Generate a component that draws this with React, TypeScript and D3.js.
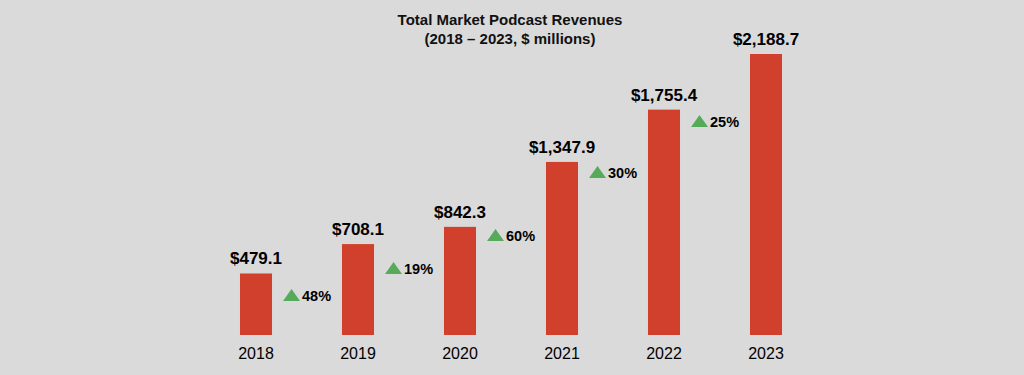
import React from "react";
import * as d3 from "d3";

const years = ["2018", "2019", "2020", "2021", "2022", "2023"];
const revenues = [479.1, 708.1, 842.3, 1347.9, 1755.4, 2188.7];
const growthLabels = ["48%", "19%", "60%", "30%", "25%"];
// level (in $ millions) at which each growth marker sits
const growthLevels = [265, 475, 732, 1223, 1620];
const titleLines = ["Total Market Podcast Revenues", "(2018 \u2013 2023, $ millions)"];

const W = 1024;
const H = 375;
const BG = "#dadada";
const BAR = "#d0402c";
const GREEN = "#56ab5a";
const FONT = "'Liberation Sans', Arial, Helvetica, sans-serif";

export default function App() {
  const x = d3
    .scaleBand<string>()
    .domain(years)
    .range([205, 817])
    .paddingInner(0.686)
    .paddingOuter(0.343);
  const y = d3.scaleLinear().domain([0, 2188.7]).range([335, 54]);
  const bw = x.bandwidth();
  const fmt = d3.format(",.1f");

  return (
    <div style={{ position: "fixed", left: 0, top: 0 }}>
      <svg width={W} height={H} style={{ display: "block" }}>
        <rect x={0} y={0} width={W} height={H} fill={BG} />
        <text x={510} y={25} textAnchor="middle" fontFamily={FONT} fontWeight="bold" fontSize={15} fill="#111">
          {titleLines[0]}
        </text>
        <text x={510} y={44} textAnchor="middle" fontFamily={FONT} fontWeight="bold" fontSize={15} fill="#111">
          {titleLines[1]}
        </text>
        {years.map((yr, i) => {
          const x0 = x(yr) as number;
          return (
            <g key={yr}>
              <rect x={x0} y={y(revenues[i])} width={bw} height={y(0) - y(revenues[i])} fill={BAR} />
              <text
                x={x0 + bw / 2}
                y={y(revenues[i]) - 9}
                textAnchor="middle"
                fontFamily={FONT}
                fontWeight="bold"
                fontSize={17}
                fill="#000"
              >
                {"$" + fmt(revenues[i])}
              </text>
              <text x={x0 + bw / 2} y={359} textAnchor="middle" fontFamily={FONT} fontSize={16} fill="#000">
                {yr}
              </text>
            </g>
          );
        })}
        {growthLabels.map((g, i) => {
          const x0 = (x(years[i]) as number) + bw + 11;
          const yb = y(growthLevels[i]);
          const tri = `M${x0},${yb} L${x0 + 17},${yb} L${x0 + 8.5},${yb - 12} Z`;
          return (
            <g key={g + i}>
              <path d={tri} fill={GREEN} />
              <text x={x0 + 19} y={yb} fontFamily={FONT} fontWeight="bold" fontSize={14.5} fill="#000">
                {g}
              </text>
            </g>
          );
        })}
      </svg>
    </div>
  );
}
